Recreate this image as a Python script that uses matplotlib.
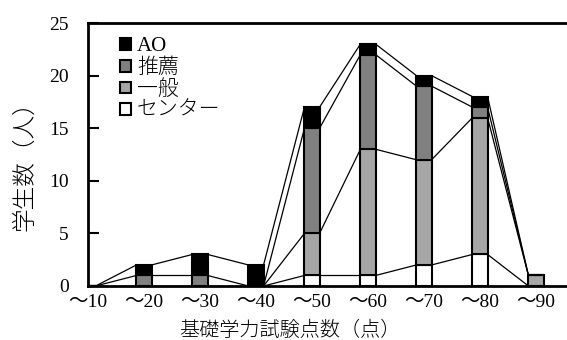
import matplotlib
matplotlib.use("Agg")
import matplotlib.pyplot as plt
from matplotlib.patches import Patch
import numpy as np

plt.rcParams['font.family'] = ['Liberation Serif', 'Noto Sans CJK JP', 'DejaVu Sans']

# Data (students per score band)
categories = ["～10", "～20", "～30", "～40", "～50", "～60", "～70", "～80", "～90"]
center = [0, 0, 0, 0, 1, 1, 2, 3, 0]
general = [0, 0, 0, 0, 4, 12, 10, 13, 1]
recommend = [0, 1, 1, 0, 10, 9, 7, 1, 0]
ao = [0, 1, 2, 2, 2, 1, 1, 1, 0]

series = [
    ("センター", center, "white"),
    ("一般", general, "#a6a6a6"),
    ("推薦", recommend, "#808080"),
    ("AO", ao, "black"),
]

W, H = 567, 340
fig = plt.figure(figsize=(W / 100, H / 100), dpi=100)
step = 56.0
xmax = 8.75
left, bottom, top = 88, 286, 23
ax = fig.add_axes([left / W, 1 - bottom / H, xmax * step / W, (bottom - top) / H])

x = np.arange(len(categories))
bw = 0.27
base = np.zeros(len(categories))
for name, vals, col in series:
    vals = np.array(vals, dtype=float)
    ax.bar(x, vals, bw, bottom=base, color=col, edgecolor="black",
           linewidth=1.5, zorder=3)
    tops = base + vals
    # series lines between neighbouring bars
    for j in range(len(x) - 1):
        ax.plot([x[j] + bw / 2, x[j + 1] - bw / 2], [tops[j], tops[j + 1]],
                color="black", linewidth=0.9, zorder=2)
    base = tops

ax.set_xlim(0, xmax)
ax.set_ylim(0, 25)
ax.set_yticks(range(0, 26, 5))
ax.set_xticks(x)
ax.set_xticklabels(categories)
ax.tick_params(axis="y", direction="in", length=8, width=1.5, labelsize=14, pad=14)
ax.tick_params(axis="x", length=0, labelsize=14, pad=6)
for s in ["left", "top", "bottom"]:
    ax.spines[s].set_linewidth(2)
ax.spines["right"].set_visible(False)

ax.set_ylabel("学生数（人）", fontsize=17, fontweight="light")
ax.yaxis.set_label_coords(-52 / (xmax * step), 0.48)
fig.text(290 / W, 1 - 331 / H, "基礎学力試験点数（点）", fontsize=14.5,
         fontweight="light", ha="center", va="center")

handles = [Patch(facecolor=c, edgecolor="black", linewidth=1.5, label=n)
           for n, v, c in series[::-1]]
leg = ax.legend(handles=handles, loc="upper left", frameon=False,
                prop={"size": 15, "weight": "light"},
                bbox_to_anchor=(110 / W, 1 - 27 / H), bbox_transform=fig.transFigure,
                borderpad=0, handlelength=0.5, handleheight=0.5,
                handletextpad=0.3, labelspacing=0.1)

fig.savefig("out.png", dpi=100)
